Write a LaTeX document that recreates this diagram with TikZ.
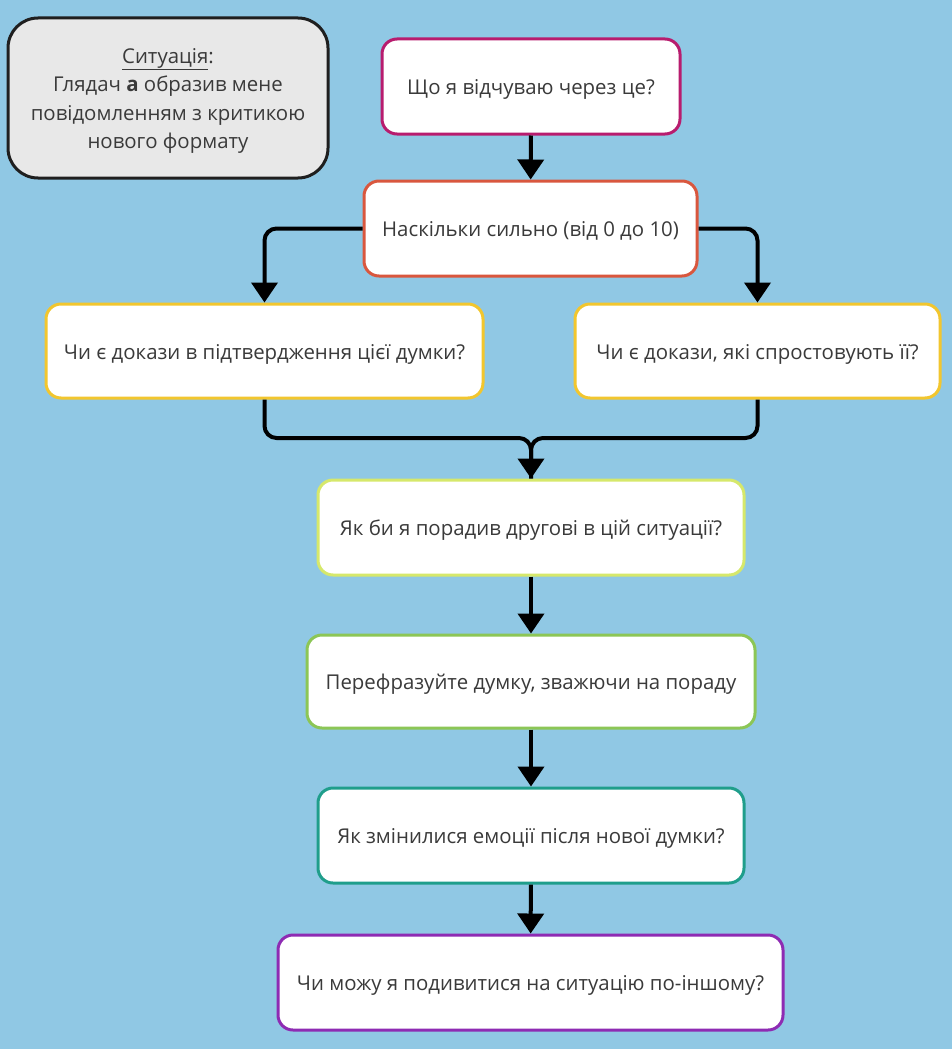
\documentclass[tikz,border=0pt]{standalone}
\usepackage{fontspec}
\setmainfont{Open Sans}
\usetikzlibrary{arrows.meta}
\definecolor{bgc}{HTML}{90C8E4}
\definecolor{txt}{HTML}{3A3A3A}
\definecolor{cmag}{HTML}{B81C6E}
\definecolor{cred}{HTML}{D9573E}
\definecolor{cyel}{HTML}{F2C62E}
\definecolor{clime}{HTML}{D6E86B}
\definecolor{cgreen}{HTML}{8CC656}
\definecolor{cteal}{HTML}{1F9E8B}
\definecolor{cpurp}{HTML}{8E2BB3}
\definecolor{cgray}{HTML}{E8E8E8}
\definecolor{cdark}{HTML}{1F1F1F}
\begin{document}
\begin{tikzpicture}[x=1pt,y=-1pt,
  box/.style={draw, fill=white, line width=3pt, rounded corners=15pt, inner sep=0pt,
    text=txt, font=\fontsize{20.4}{24}\selectfont, text height=16.5pt, text depth=0pt},
  conn/.style={line width=4pt, draw=black, -{Triangle[width=26pt,length=20pt]}, rounded corners=12pt},
  plain/.style={line width=4pt, draw=black, rounded corners=12pt}]
\fill[bgc] (0,0) rectangle (952,1049);
\useasboundingbox (0,0) rectangle (952,1049);
\node[draw=cdark, fill=cgray, line width=3pt, rounded corners=30pt, inner sep=0pt, text=txt,
  minimum width=320pt, minimum height=160pt] (b0) at (168,98)
  {\parbox[c][140pt][c]{310pt}{\centering\fontsize{20.4}{28.5}\selectfont\vspace*{6pt}%
   \underline{Ситуація}:\\Глядач \textbf{а} образив мене\\повідомленням з критикою\\нового формату\par}};
\node[box, draw=cmag, minimum width=298pt, minimum height=95pt] (b1) at (531,86.5) {Що я відчуваю через це?};
\node[box, draw=cred, minimum width=333pt, minimum height=95pt] (b2) at (530.5,228.5) {Наскільки сильно (від 0 до 10)};
\node[box, draw=cyel, minimum width=437pt, minimum height=94pt] (b3l) at (264.5,351) {Чи є докази в підтвердження цієї думки?};
\node[box, draw=cyel, minimum width=365pt, minimum height=94pt] (b3r) at (757.5,351) {Чи є докази, які спростовують її?};
\node[box, draw=clime, minimum width=426pt, minimum height=95pt] (b4) at (531,527.5) {Як би я порадив другові в цій ситуації?};
\node[box, draw=cgreen, minimum width=448pt, minimum height=93pt] (b5) at (531,681.5) {Перефразуйте думку, зважючи на пораду};
\node[box, draw=cteal, minimum width=426pt, minimum height=95pt] (b6) at (531,835.5) {Як змінилися емоції після нової думки?};
\node[box, draw=cpurp, minimum width=505pt, minimum height=95pt] (b7) at (530.5,982.5) {Чи можу я подивитися на ситуацію по-іншому?};
\coordinate (mm) at (531,438);
\draw[conn] (b1) -- (b2);
\draw[conn] (b2.west) -| (b3l.north);
\draw[conn] (b2.east) -| (b3r.north);
\draw[plain] (b3r.south) |- (mm) -- (b4.north);
\draw[conn] (b3l.south) |- (mm) -- (b4.north);
\draw[conn] (b4) -- (b5);
\draw[conn] (b5) -- (b6);
\draw[conn] (b6) -- (b7);
\end{tikzpicture}
\end{document}
